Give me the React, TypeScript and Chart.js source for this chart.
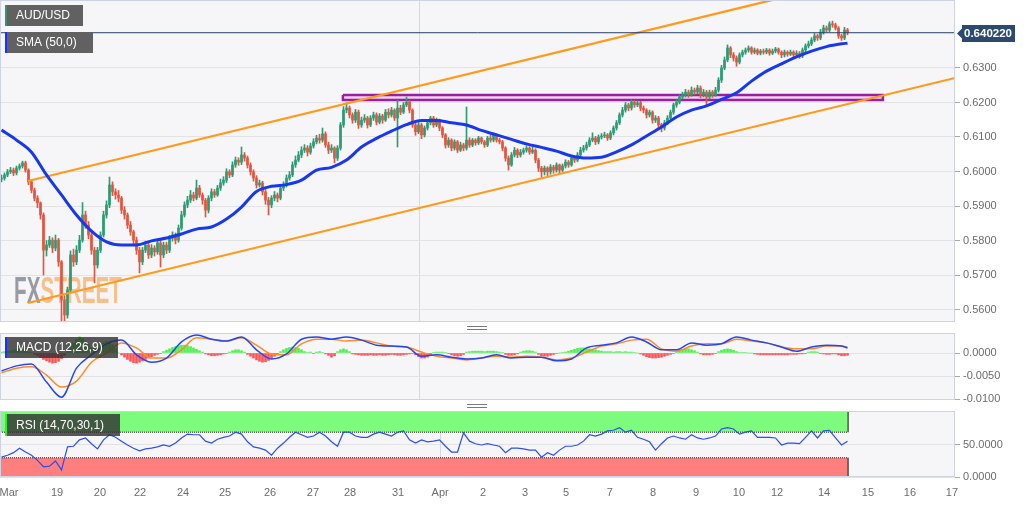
import React, { useEffect, useRef } from 'react';
import { Chart, registerables } from 'chart.js';
Chart.register(...registerables);

// ---------------- DATA ----------------
const PIP = 10000;
const FIRST_OPEN = 5978;
const closes = [
  5981,5990,5999,6004,5996,6010,6016,6025,6004,5970,
  5946,5923,5909,5874,5772,5787,5801,5778,5801,5738,
  5628,5584,5657,5758,5738,5772,5801,5874,5845,5816,
  5772,5729,5772,5816,5874,5903,5961,5941,5932,5923,
  5888,5874,5845,5825,5801,5772,5738,5772,5787,5758,
  5778,5767,5793,5758,5787,5772,5807,5816,5801,5836,
  5874,5903,5917,5932,5923,5952,5932,5917,5888,5923,
  5941,5932,5952,5967,5975,5999,5990,6019,6033,6027,
  6048,6039,6019,5999,5981,5961,5967,5941,5917,5903,
  5923,5932,5923,5952,5961,5981,5990,6019,6033,6048,
  6062,6068,6056,6074,6086,6097,6091,6109,6077,6062,
  6068,6039,6068,6135,6178,6184,6164,6149,6172,6135,
  6149,6155,6135,6155,6164,6143,6161,6149,6172,6164,
  6178,6155,6184,6172,6193,6201,6178,6135,6115,6135,
  6106,6126,6141,6155,6135,6149,6126,6106,6077,6091,
  6068,6086,6062,6077,6068,6091,6077,6091,6083,6097,
  6086,6077,6097,6091,6106,6091,6086,6068,6039,6019,
  6048,6062,6048,6056,6062,6068,6056,6062,6033,6010,
  5999,6010,5999,6013,6004,6019,6004,6016,6027,6019,
  6039,6033,6048,6062,6068,6077,6091,6097,6086,6100,
  6103,6106,6097,6112,6126,6141,6164,6178,6193,6184,
  6201,6193,6199,6184,6178,6164,6172,6149,6155,6135,
  6126,6141,6155,6172,6193,6201,6216,6222,6230,6222,
  6236,6230,6242,6222,6230,6216,6230,6222,6236,6265,
  6300,6323,6358,6338,6329,6317,6338,6346,6352,6358,
  6346,6352,6343,6349,6346,6352,6343,6349,6355,6346,
  6338,6346,6340,6346,6338,6343,6335,6352,6364,6370,
  6381,6393,6387,6404,6416,6410,6428,6425,6416,6393,
  6387,6410,6402.2
];
const highs = [
  5990,5996,6006,6012,6010,6016,6022,6030,6030,6008,
  5975,5952,5930,5912,5880,5800,5812,5808,5816,5806,
  5742,5640,5665,5770,5775,5785,5815,5910,5885,5855,
  5825,5780,5780,5825,5885,5915,5984,5970,5950,5945,
  5928,5898,5880,5855,5830,5810,5780,5780,5798,5795,
  5788,5785,5805,5800,5795,5795,5815,5825,5822,5845,
  5885,5912,5928,5945,5940,5975,5960,5938,5922,5930,
  5950,5948,5960,5978,5985,6008,6005,6028,6042,6040,
  6071,6055,6045,6025,6005,5988,5975,5972,5948,5925,
  5930,5942,5938,5960,5970,5990,6000,6028,6045,6058,
  6072,6078,6075,6082,6095,6105,6108,6126,6115,6085,
  6078,6072,6075,6142,6188,6199,6190,6170,6180,6178,
  6158,6165,6160,6162,6172,6170,6168,6166,6180,6182,
  6186,6182,6207,6192,6200,6216,6206,6182,6140,6142,
  6140,6132,6150,6160,6160,6155,6152,6130,6110,6098,
  6095,6092,6090,6085,6082,6187,6098,6096,6095,6102,
  6100,6090,6102,6105,6112,6110,6096,6090,6072,6045,
  6055,6070,6066,6064,6068,6075,6072,6070,6066,6038,
  6015,6016,6014,6020,6018,6025,6022,6022,6034,6032,
  6045,6046,6055,6070,6076,6085,6098,6112,6102,6106,
  6110,6114,6110,6118,6132,6148,6170,6186,6200,6198,
  6208,6206,6205,6204,6190,6182,6178,6176,6162,6160,
  6140,6148,6162,6178,6198,6208,6222,6230,6238,6236,
  6245,6242,6250,6248,6238,6235,6236,6235,6244,6272,
  6308,6332,6367,6362,6345,6335,6344,6352,6358,6364,
  6362,6358,6356,6354,6355,6357,6356,6355,6360,6358,
  6350,6352,6350,6352,6350,6350,6348,6358,6370,6378,
  6388,6400,6398,6412,6424,6422,6434,6436,6430,6420,
  6398,6418,6415
];
const lows = [
  5970,5975,5985,5994,5988,5990,6004,6010,5998,5962,
  5938,5915,5895,5862,5700,5755,5780,5765,5770,5725,
  5510,5560,5575,5650,5725,5730,5765,5795,5835,5805,
  5760,5677,5720,5765,5810,5865,5895,5930,5920,5912,
  5878,5862,5835,5815,5790,5760,5706,5730,5765,5748,
  5750,5755,5760,5723,5750,5762,5765,5798,5790,5795,
  5830,5868,5895,5910,5915,5918,5925,5905,5868,5880,
  5915,5925,5928,5945,5960,5968,5982,5985,6012,6018,
  6020,6030,6010,5990,5972,5952,5955,5932,5905,5874,
  5895,5915,5912,5918,5945,5955,5975,5985,6012,6028,
  6040,6055,6045,6050,6068,6080,6082,6085,6070,6052,
  6055,6025,6032,6062,6128,6170,6155,6140,6142,6125,
  6128,6142,6126,6130,6148,6135,6138,6140,6145,6155,
  6158,6148,6071,6165,6168,6188,6170,6128,6105,6110,
  6095,6100,6120,6135,6128,6130,6118,6098,6068,6070,
  6060,6062,6055,6058,6060,6062,6070,6072,6076,6078,
  6080,6070,6072,6085,6086,6085,6080,6060,6030,6004,
  6015,6042,6040,6042,6050,6056,6050,6052,6025,6000,
  5984,5990,5988,5992,5995,5998,5996,6000,6010,6012,
  6015,6026,6028,6042,6056,6062,6072,6086,6078,6080,
  6094,6098,6090,6092,6106,6120,6136,6158,6172,6176,
  6178,6186,6188,6176,6170,6155,6158,6140,6142,6126,
  6115,6120,6136,6150,6166,6186,6196,6210,6216,6215,
  6218,6222,6225,6214,6216,6193,6210,6215,6218,6230,
  6258,6295,6318,6330,6320,6305,6312,6332,6340,6346,
  6340,6341,6338,6338,6340,6341,6337,6339,6344,6340,
  6330,6332,6334,6336,6330,6333,6328,6330,6346,6358,
  6365,6376,6380,6382,6398,6404,6405,6418,6410,6386,
  6380,6382,6396
];

// SMA(50), one value every SMA_STEP bars, last one at the final bar
const SMA_STEP = 5;
const smaValues = [
  6120,6091,6056,5990,5932,5874,5827,5796,5787,5787,
  5799,5807,5819,5833,5839,5862,5897,5942,5957,5962,
  5975,6004,6012,6033,6071,6096,6117,6136,6148,6148,
  6141,6135,6119,6106,6093,6080,6070,6059,6045,6039,
  6041,6057,6077,6103,6129,6158,6178,6190,6209,6228,
  6262,6291,6312,6332,6349,6362,6370,6372
];

// MACD (12,26,9) in units of 0.0001, sampled every MACD_STEP bars (last at final bar)
const MACD_STEP = 5;
const macdValues = [
  -39,-28,-24,-63,-96,-33,-4,20,28,-4,
  -20,-11,24,39,30,26,35,7,-13,-2,
  30,35,30,35,28,17,15,13,-7,-4,
  -9,-13,-11,-4,-11,-9,-9,-17,-13,11,
  17,22,35,24,7,7,22,17,20,35,
  28,22,13,4,13,17,15,11
];
const signalValues = [
  -43,-33,-30,-48,-74,-61,-20,0,22,11,
  -11,-11,7,33,30,26,33,17,-2,-4,
  20,30,30,26,28,22,15,13,2,-7,
  -11,-15,-11,-7,-9,-7,-9,-15,-11,2,
  15,20,28,30,9,4,15,20,20,30,
  26,22,13,9,9,15,15,13
];
// MACD histogram, one per bar, units of 0.0001
const histValues = [
  2,3,
  4,5,6,7,7,6,5,3,1,
  -3,-6,-10,-14,-17,-20,-22,-21,-18,-12,-5,
  6,14,22,30,35,32,26,
  18,12,10,14,
  18,22,25,24,18,10,
  0,
  -4,-9,-14,-18,-21,-22,-20,-17,-14,-11,-8,-5,-3,-1,
  3,6,9,12,14,16,17,17,16,14,11,8,5,2,
  -2,-4,-6,-6,-5,-4,-2,-1,
  2,5,7,7,5,2,
  -3,-7,-11,-15,-18,-20,-19,-16,-12,-7,-2,
  3,7,10,12,13,12,10,7,3,
  1,2,-1,2,3,1,-2,-5,-9,-6,
  3,7,9,7,3,
  -2,-3,-4,-5,-5,-5,-4,-5,-5,-4,-5,-5,-4,-3,-4,-5,-5,-4,-3,-2,-1,
  -4,-8,-11,-11,-9,-5,
  1,2,2,2,1,-1,
  -4,-6,-7,-6,-3,
  2,3,4,4,4,4,3,4,4,4,3,2,1,
  -3,-5,-5,-4,-2,
  2,4,5,5,4,2,
  -3,-6,-7,-7,-5,-3,
  -1,0,1,2,
  4,6,8,10,11,11,10,9,8,7,5,4,3,
  3,3,2,3,3,2,3,2,2,1,0,
  -2,-5,-8,-10,-11,-11,-10,-9,-7,-5,-3,-1,
  3,6,8,9,9,7,5,2,
  -2,-4,-4,-4,-3,-1,
  3,6,8,9,8,6,3,
  1,1,1,0,0,
  -2,-3,-4,-4,-4,-4,-4,-4,-4,-4,-4,-4,-3,-3,-3,-2,-2,-1,
  2,3,3,2,
  -1,-2,-3,-3,-2,-2,
  -4,-6,-6,-5
];

// RSI(14) sampled every RSI_STEP bars
const RSI_STEP = 2;
const rsiValues = [
  31,34,38,45,39,34,26,16,17,25,
  11,47,48,58,61,52,44,58,66,62,
  56,50,45,41,44,45,47,50,48,53,
  61,67,66,66,56,53,59,62,64,70,
  67,55,47,45,42,34,45,53,62,70,
  66,62,64,70,64,55,48,70,70,64,
  62,62,67,70,67,64,70,72,58,53,
  58,55,56,58,48,39,39,69,56,52,
  50,52,50,48,38,45,45,44,42,42,
  31,38,34,42,48,48,50,56,66,64,
  67,72,73,77,70,73,62,59,55,42,
  52,61,64,61,59,66,61,59,61,64,
  75,77,75,67,70,72,62,62,62,61,
  50,53,53,52,62,72,61,72,73,61,
  50,56
];

// Trend channel and resistance zone anchors (bar index, price)
const upperChannel = [{ bar: 8.83, price: 0.59725 }, { bar: 257.8, price: 0.64991 }];
const lowerChannel = [{ bar: 8.83, price: 0.56188 }, { bar: 317.8, price: 0.62710 }];
const zoneBars = [113.8, 293.8];
const zonePrices = [0.62072, 0.62217];

// Axis ticks
const priceTicks = [0.56, 0.57, 0.58, 0.59, 0.60, 0.61, 0.62, 0.63];
const macdTicks = [0, -0.005, -0.01];
const rsiTicks = [0, 50];
const dayLabels = ['Mar','19','20','22','24','25','26','27','28','31','Apr','2','3','5','7','8','9','10','12','14','15','16','17'];
const dayTickBars = [2.5,18.5,32.8,46.2,60.5,74.5,89.5,103.8,116.2,132.2,146.2,160.5,174.5,188.2,202.8,217.2,231.5,245.8,258.5,274.2,288.8,302.8,316.8];

// ---------------- STYLE ----------------
const FONT = "'Liberation Sans', Arial, Helvetica, sans-serif";
const X_MIN = -0.5;
const X_MAX = 317.83;
const AXIS_W = 77;
const UP = '#2d9b73';
const DOWN = '#e2563f';
const TICK_COLOR = '#6b6b6b';
const GRID = '#e3e3e6';
const PANEL_BG = '#f6f6f8';
const PANEL_BORDER = '#cdd3e4';

Chart.defaults.font.family = FONT;

const lastIdx = closes.length - 1;
const lastPrice = closes[lastIdx] / PIP;
const opens = closes.map((_, i) => (i === 0 ? FIRST_OPEN : closes[i - 1]));
const sampleBar = (k: number, n: number, step: number) => (k === n - 1 && (n - 1) * step !== lastIdx && k * step > lastIdx - step ? lastIdx : k * step);

function xScale(showLabels: boolean) {
  return {
    type: 'linear',
    min: X_MIN,
    max: X_MAX,
    offset: false,
    afterBuildTicks: (s: any) => { s.ticks = dayTickBars.map((v) => ({ value: v })); },
    afterFit: (s: any) => { s.height = showLabels ? 28 : 0; s.paddingLeft = 0; s.paddingRight = 0; },
    ticks: {
      display: showLabels,
      autoSkip: false,
      maxRotation: 0,
      minRotation: 0,
      padding: 9,
      color: TICK_COLOR,
      font: { family: FONT, size: 11 },
      callback: (_v: any, i: number) => dayLabels[i],
    },
    grid: {
      drawTicks: false,
      color: (c: any) => (c.tick && c.index === dayLabels.indexOf('Apr') ? '#d9d9dd' : 'rgba(0,0,0,0)'),
    },
    border: { display: false },
  };
}

function yScale(min: number, max: number, ticks: number[], digits: number) {
  return {
    type: 'linear',
    position: 'right',
    min,
    max,
    afterBuildTicks: (s: any) => { s.ticks = ticks.map((v) => ({ value: v })); },
    afterFit: (s: any) => { s.width = AXIS_W; s.paddingTop = 0; s.paddingBottom = 0; },
    ticks: {
      color: TICK_COLOR,
      padding: 3,
      font: { family: FONT, size: 11 },
      callback: (v: any) => Number(v).toFixed(digits),
    },
    grid: { color: GRID, tickLength: 5, tickColor: '#a8a8ae', drawTicks: true },
    border: { display: false },
  };
}

function drawTag(ctx: CanvasRenderingContext2D, x: number, y: number, w: number, h: number, fill: string, stripe: string, text: string) {
  ctx.save();
  ctx.fillStyle = fill;
  ctx.fillRect(x, y, w, h);
  ctx.fillStyle = stripe;
  ctx.fillRect(x, y, 2, h);
  ctx.fillStyle = '#ffffff';
  ctx.font = `12px ${FONT}`;
  ctx.textBaseline = 'middle';
  ctx.textAlign = 'left';
  ctx.fillText(text, x + 11, y + h / 2 + 0.5);
  ctx.restore();
}

function panelPlugin(extra?: (chart: any) => void, behind?: (chart: any) => void) {
  return {
    id: 'panel',
    beforeDraw(chart: any) {
      const { ctx, chartArea: a } = chart;
      ctx.save();
      ctx.fillStyle = PANEL_BG;
      ctx.fillRect(a.left, a.top, a.right - a.left, a.bottom - a.top);
      ctx.restore();
    },
    beforeDatasetsDraw(chart: any) {
      if (behind) behind(chart);
    },
    afterDraw(chart: any) {
      const { ctx, chartArea: a } = chart;
      ctx.save();
      ctx.strokeStyle = PANEL_BORDER;
      ctx.lineWidth = 1;
      ctx.strokeRect(a.left + 0.5, a.top + 0.5, a.right - a.left - 1, a.bottom - a.top - 1);
      ctx.restore();
      if (extra) extra(chart);
    },
  };
}

function mainConfig(): any {
  const candleColors = closes.map((c, i) => (c >= opens[i] ? UP : DOWN));
  const P = (v: number) => v / PIP;
  return {
    type: 'bar',
    data: {
      datasets: [
        {
          type: 'line',
          order: 6,
          data: [
            { x: zoneBars[0], y: zonePrices[1] },
            { x: zoneBars[1], y: zonePrices[1] },
            { x: zoneBars[1], y: zonePrices[0] },
            { x: zoneBars[0], y: zonePrices[0] },
            { x: zoneBars[0], y: zonePrices[1] },
          ],
          borderColor: '#9b1ea0',
          borderWidth: 2.5,
          backgroundColor: 'rgba(236,200,238,0.7)',
          fill: 'shape',
          pointRadius: 0,
          tension: 0,
        },
        {
          type: 'bar',
          order: 5,
          data: closes.map((_, i) => ({ x: i, y: [P(lows[i]), P(highs[i])] })),
          backgroundColor: candleColors,
          barThickness: 1,
          grouped: false,
          borderWidth: 0,
        },
        {
          type: 'bar',
          order: 4,
          data: closes.map((c, i) => ({ x: i, y: [P(opens[i]), P(c)] })),
          backgroundColor: candleColors,
          barThickness: 2,
          minBarLength: 1,
          grouped: false,
          borderWidth: 0,
        },
        {
          type: 'line',
          order: 3,
          data: upperChannel.map((p) => ({ x: p.bar, y: p.price })),
          borderColor: '#ff9a1c',
          borderWidth: 2.2,
          pointRadius: 0,
        },
        {
          type: 'line',
          order: 3,
          data: lowerChannel.map((p) => ({ x: p.bar, y: p.price })),
          borderColor: '#ff9a1c',
          borderWidth: 2.2,
          pointRadius: 0,
        },
        {
          type: 'line',
          order: 2,
          data: [{ x: X_MIN, y: lastPrice }, { x: X_MAX, y: lastPrice }],
          borderColor: '#23416a',
          borderWidth: 1,
          pointRadius: 0,
        },
        {
          type: 'line',
          order: 1,
          data: smaValues.map((v, k) => ({ x: sampleBar(k, smaValues.length, SMA_STEP), y: P(v) })),
          borderColor: '#1838ee',
          borderWidth: 3,
          pointRadius: 0,
          cubicInterpolationMode: 'monotone',
        },
      ],
    },
    options: {
      responsive: false,
      animation: false,
      devicePixelRatio: 1,
      events: [],
      layout: { padding: { top: 0, bottom: 2, left: 0, right: 0 } },
      plugins: { legend: { display: false }, tooltip: { enabled: false } },
      scales: {
        x: xScale(false),
        y: yScale(0.64971, 0.556377, priceTicks, 4),
      },
    },
    plugins: [
      panelPlugin(
        (chart: any) => {
          const { ctx } = chart;
          drawTag(ctx, 5, 5, 78, 21, '#616161', '#3b8f70', 'AUD/USD');
          drawTag(ctx, 5, 32, 88, 21, '#616161', '#1433ff', 'SMA (50,0)');
          // last price marker on the axis
          const y = Math.round(chart.scales.y.getPixelForValue(lastPrice));
          const x0 = chart.chartArea.right + 2;
          ctx.save();
          ctx.fillStyle = '#2c4a70';
          ctx.beginPath();
          ctx.moveTo(x0, y + 0.5);
          ctx.lineTo(x0 + 5, y - 4.5);
          ctx.lineTo(x0 + 5, y - 8);
          ctx.lineTo(x0 + 58, y - 8);
          ctx.lineTo(x0 + 58, y + 9);
          ctx.lineTo(x0 + 5, y + 9);
          ctx.lineTo(x0 + 5, y + 5.5);
          ctx.closePath();
          ctx.fill();
          ctx.fillStyle = '#ffffff';
          ctx.font = `bold 11.5px ${FONT}`;
          ctx.textBaseline = 'middle';
          ctx.fillText(lastPrice.toFixed(6), x0 + 7, y + 1);
          ctx.restore();
        },
        (chart: any) => {
          const { ctx } = chart;
          ctx.save();
          ctx.font = `bold 36px ${FONT}`;
          const wFX = ctx.measureText('FX').width;
          const wAll = ctx.measureText('FXSTREET').width;
          ctx.translate(14, 303);
          ctx.scale(108 / wAll, 1);
          ctx.textBaseline = 'alphabetic';
          ctx.fillStyle = 'rgba(125,130,140,0.78)';
          ctx.fillText('FX', 0, 0);
          ctx.fillStyle = 'rgba(244,170,95,0.72)';
          ctx.fillText('STREET', wFX, 0);
          ctx.restore();
        }
      ),
    ],
  };
}

function macdConfig(): any {
  const S = (v: number) => v / PIP;
  return {
    type: 'bar',
    data: {
      datasets: [
        {
          type: 'bar',
          order: 3,
          data: histValues.map((v, i) => ({ x: i, y: S(v) })),
          backgroundColor: histValues.map((v) => (v >= 0 ? 'rgba(40,235,40,0.8)' : 'rgba(255,45,45,0.8)')),
          barThickness: 2,
          grouped: false,
          borderWidth: 0,
        },
        {
          type: 'line',
          order: 2,
          data: signalValues.map((v, k) => ({ x: sampleBar(k, signalValues.length, MACD_STEP), y: S(v) })),
          borderColor: '#ff8a26',
          borderWidth: 1.5,
          pointRadius: 0,
          cubicInterpolationMode: 'monotone',
        },
        {
          type: 'line',
          order: 1,
          data: macdValues.map((v, k) => ({ x: sampleBar(k, macdValues.length, MACD_STEP), y: S(v) })),
          borderColor: '#2546f0',
          borderWidth: 1.5,
          pointRadius: 0,
          cubicInterpolationMode: 'monotone',
        },
      ],
    },
    options: {
      responsive: false,
      animation: false,
      devicePixelRatio: 1,
      events: [],
      layout: { padding: { top: 7, bottom: 8, left: 0, right: 0 } },
      plugins: { legend: { display: false }, tooltip: { enabled: false } },
      scales: {
        x: xScale(false),
        y: yScale(-0.010217, 0.004348, macdTicks, 4),
      },
    },
    plugins: [
      panelPlugin((chart: any) => {
        drawTag(chart.ctx, 5, 11, 113, 21, 'rgba(48,48,48,0.8)', '#1433ff', 'MACD (12,26,9)');
      }),
    ],
  };
}

function rsiConfig(): any {
  const RSI_MAX = 103.1;
  const zoneEnd = lastIdx + 0.2;
  return {
    type: 'line',
    data: {
      datasets: [
        {
          data: [{ x: X_MIN, y: 70 }, { x: zoneEnd, y: 70 }],
          borderColor: '#222',
          borderWidth: 1,
          borderDash: [1, 1],
          pointRadius: 0,
          fill: false,
          order: 4,
        },
        {
          data: [{ x: X_MIN, y: RSI_MAX }, { x: zoneEnd, y: RSI_MAX }],
          borderWidth: 0,
          borderColor: 'rgba(0,0,0,0)',
          backgroundColor: '#7dfb7d',
          pointRadius: 0,
          fill: '-1',
          order: 4,
        },
        {
          data: [{ x: X_MIN, y: 30 }, { x: zoneEnd, y: 30 }],
          borderColor: '#222',
          borderWidth: 1,
          borderDash: [1, 1],
          backgroundColor: '#ff7f7f',
          pointRadius: 0,
          fill: 'origin',
          order: 4,
        },
        {
          data: [{ x: zoneEnd, y: 0 }, { x: zoneEnd, y: 30 }, { x: zoneEnd, y: null }, { x: zoneEnd, y: 70 }, { x: zoneEnd, y: RSI_MAX }],
          borderColor: '#111',
          borderWidth: 1,
          pointRadius: 0,
          spanGaps: false,
          fill: false,
          order: 3,
        },
        {
          data: rsiValues.map((v, k) => ({ x: k * RSI_STEP, y: v })),
          borderColor: '#2b4ff0',
          borderWidth: 1.2,
          pointRadius: 0,
          fill: false,
          tension: 0,
          order: 1,
        },
      ],
    },
    options: {
      responsive: false,
      animation: false,
      devicePixelRatio: 1,
      events: [],
      layout: { padding: { top: 7, bottom: 0, left: 0, right: 0 } },
      plugins: { legend: { display: false }, tooltip: { enabled: false } },
      scales: {
        x: xScale(true),
        y: yScale(0, RSI_MAX, rsiTicks, 4),
      },
    },
    plugins: [
      panelPlugin((chart: any) => {
        drawTag(chart.ctx, 5, 10, 115, 22, 'rgba(48,48,48,0.8)', '#2bf02b', 'RSI (14,70,30,1)');
      }),
    ],
  };
}

export default function App() {
  const mainRef = useRef<HTMLCanvasElement>(null);
  const macdRef = useRef<HTMLCanvasElement>(null);
  const rsiRef = useRef<HTMLCanvasElement>(null);

  useEffect(() => {
    const charts = [
      new Chart(mainRef.current as HTMLCanvasElement, mainConfig()),
      new Chart(macdRef.current as HTMLCanvasElement, macdConfig()),
      new Chart(rsiRef.current as HTMLCanvasElement, rsiConfig()),
    ];
    return () => charts.forEach((c) => c.destroy());
  }, []);

  const handle = (top: number) => (
    <div
      style={{
        position: 'absolute',
        left: 467,
        top,
        width: 20,
        height: 2,
        borderTop: '1px solid #7a7a7a',
        borderBottom: '1px solid #7a7a7a',
      }}
    />
  );

  return (
    <div style={{ position: 'absolute', left: 0, top: 0, width: 1032, height: 505, background: '#ffffff', overflow: 'hidden' }}>
      <canvas ref={mainRef} width={1032} height={324} style={{ position: 'absolute', left: 0, top: 0 }} />
      <canvas ref={macdRef} width={1032} height={82} style={{ position: 'absolute', left: 0, top: 326 }} />
      <canvas ref={rsiRef} width={1032} height={101} style={{ position: 'absolute', left: 0, top: 404 }} />
      {handle(326)}
      {handle(404)}
    </div>
  );
}
